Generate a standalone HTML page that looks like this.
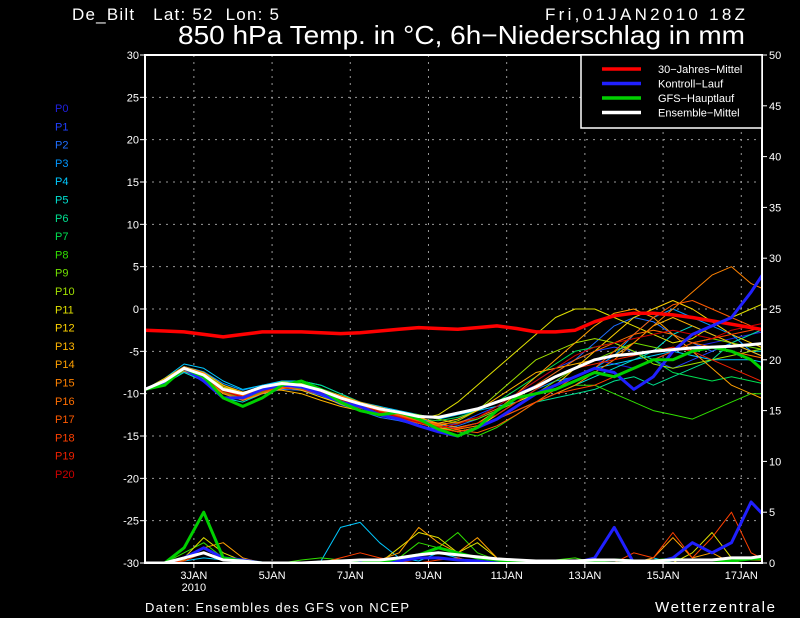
<!DOCTYPE html>
<html><head><meta charset="utf-8"><style>
body{margin:0;background:#000;width:800px;height:618px;overflow:hidden}
svg{display:block}
text{font-family:"Liberation Sans",sans-serif;fill:#fff}
</style></head><body>
<svg id="chart" width="800" height="618" viewBox="0 0 800 618" xmlns="http://www.w3.org/2000/svg">
<rect width="800" height="618" fill="#000"/>
<text x="72" y="20" font-size="17" textLength="207" lengthAdjust="spacing" xml:space="preserve">De_Bilt   Lat: 52  Lon: 5</text>
<text x="545" y="20" font-size="17" textLength="200" lengthAdjust="spacing">Fri,01JAN2010 18Z</text>
<text x="178" y="44" font-size="26" textLength="567" lengthAdjust="spacingAndGlyphs">850 hPa Temp. in °C, 6h−Niederschlag in mm</text>
<text x="145" y="612" font-size="13" textLength="264" lengthAdjust="spacing">Daten: Ensembles des GFS von NCEP</text>
<text x="655" y="612" font-size="15" textLength="120" lengthAdjust="spacing">Wetterzentrale</text>
<g id="grid"></g>
<defs><clipPath id="clip"><rect x="145" y="55" width="617" height="508"/></clipPath></defs>
<g id="series" clip-path="url(#clip)"></g>
<rect x="145" y="55" width="617" height="508" fill="none" stroke="#fff" stroke-width="2"/>
<g id="axes"></g>
<g id="legend">
<rect x="581" y="55" width="181" height="73" fill="#000" stroke="#fff" stroke-width="1.5"/>
</g>
<g id="members-legend"></g>
</svg>
<script>
const tempTicks=[30,25,20,15,10,5,0,-5,-10,-15,-20,-25,-30];
const precipTicks=[50,45,40,35,30,25,20,15,10,5,0];
const dayLabels=["3JAN","5JAN","7JAN","9JAN","11JAN","13JAN","15JAN","17JAN"];
const dayOffsets=[1.25,3.25,5.25,7.25,9.25,11.25,13.25,15.25];
const memberNames=["P0","P1","P2","P3","P4","P5","P6","P7","P8","P9","P10","P11","P12","P13","P14","P15","P16","P17","P18","P19","P20"];
const memberColors=["#2020e0","#2040ff","#1e6eff","#0096ff","#00c8ff","#00e0d0","#00e090","#00e050","#30e000","#70e000","#a0e000","#e0e000","#ffd200","#ffb400","#ffa000","#ff8200","#ff6e00","#ff5a00","#ff4000","#f02000","#d00000"];
const climate=[-2.5,-2.6,-2.7,-3.0,-3.3,-3.0,-2.7,-2.7,-2.7,-2.8,-2.9,-2.8,-2.6,-2.4,-2.2,-2.3,-2.4,-2.2,-2.0,-2.3,-2.7,-2.7,-2.5,-1.5,-0.8,-0.5,-0.5,-0.7,-1.0,-1.4,-1.8,-2.2,-2.6];
const ensMean=[-9.5,-8.5,-7,-7.8,-9.5,-10,-9.2,-8.8,-9,-9.6,-10.5,-11.2,-11.8,-12.2,-12.7,-12.8,-12.3,-11.8,-11,-10.2,-9.2,-8,-7,-6,-5.5,-5.3,-5,-4.8,-4.6,-4.5,-4.4,-4.2,-4];
const gfsRun=[-9.5,-9,-7,-8,-10.5,-11.5,-10.5,-9,-8.5,-9.5,-11,-12,-12.5,-12.2,-13,-14.2,-15,-14,-12,-10.5,-10,-9.5,-8.5,-7.5,-8,-7,-6,-6,-5,-4.5,-5,-6,-8];
const ctrlRun=[-9.5,-8.6,-7,-8.5,-10.5,-10.5,-9.5,-9,-9.2,-10,-11,-11.5,-12.5,-13,-13.8,-14.5,-15,-14,-13,-11.5,-10,-9,-8,-7,-7.5,-9.5,-8,-5,-3,-2,-1,2,5.5];
const m0=[-9.5,-8.3,-7.2,-8,-9.8,-10.5,-9.5,-9,-9.3,-10,-11,-11.5,-12,-12.5,-13,-13.5,-13,-12,-11,-10,-9,-8,-7,-6,-6.5,-7,-6,-5,-4.5,-4,-3.5,-3,-2.5];
const m1=[-9.5,-8.6,-7,-7.5,-9,-10,-9.3,-8.5,-8.8,-9.5,-10.8,-11.7,-12.2,-12.8,-13.5,-14,-13.5,-12.5,-11.5,-10,-8.5,-7,-6,-5,-4.5,-5,-6,-7,-6,-5,-4,-5,-6];
const m2=[-9.5,-8.5,-7.4,-8.2,-10,-10.8,-10,-9.5,-9.6,-10.2,-11.3,-12,-12.8,-13.2,-13.8,-14.2,-13.8,-13,-12,-10.5,-9,-7.5,-6,-4,-2,-1,-1.5,-3,-4,-5,-4,-3,-2];
const m3=[-9.5,-8.4,-6.8,-7.4,-8.8,-9.6,-9,-8.6,-8.8,-9.6,-10.4,-11,-11.8,-12.4,-13,-13.6,-14,-13.5,-12.5,-11,-9.5,-8.5,-8,-7,-5.5,-3,-1,0,-1,-2,-3,-5,-6];
const m4=[-9.5,-8.2,-6.5,-7,-8.5,-9.5,-9,-8.5,-8.5,-9,-10,-11,-11.5,-12,-12.5,-13,-12.5,-12,-11.5,-11,-10,-9,-8,-7,-6.5,-6,-5.5,-5,-5.5,-6,-6,-6,-6.5];
const m5=[-9.5,-8.8,-7.5,-8.5,-10.5,-11,-10,-9,-9,-9.5,-10.5,-11.5,-12.5,-13,-13.5,-14,-14.5,-14,-13,-12,-11,-10,-9,-8,-7,-6,-5,-3,-2,-3,-4,-5,-5];
const m6=[-9.5,-8.5,-7,-7.8,-9.5,-10.5,-9.5,-8.8,-8.5,-9,-10,-11,-12,-13,-13.5,-14,-14.5,-14,-13,-12,-11,-10.5,-10,-9.5,-8.5,-8,-9,-8,-7,-6,-4,-3,-2];
const m7=[-9.5,-8.3,-6.9,-7.6,-9.2,-10.2,-9.6,-9.2,-9.4,-10,-10.8,-11.6,-12.2,-12.6,-13,-13.2,-12.8,-12,-11,-9.5,-8,-6.5,-5,-4.5,-4,-5,-6,-7.5,-8,-8.5,-8,-8.5,-9];
const m8=[-9.5,-8.7,-7.3,-8,-9.8,-10.6,-9.8,-9.2,-9,-9.4,-10.2,-11,-11.8,-12.4,-13,-13.8,-14.5,-15,-14,-12.5,-11,-10,-9,-9,-10,-11,-12,-12.5,-13,-12,-11,-10,-10];
const m9=[-9.5,-8.4,-7,-7.9,-9.6,-10.3,-9.4,-8.8,-9,-9.8,-10.6,-11.4,-12,-12.2,-12.5,-13,-13.5,-13,-12,-11,-10,-8.5,-7,-6,-5,-4,-4.5,-5,-4,-3.5,-4,-4.5,-5];
const m10=[-9.5,-8.6,-7.2,-8,-9.4,-10,-9.2,-8.6,-8.8,-9.6,-10.6,-11.4,-12.4,-13,-13.4,-13.8,-13.2,-12,-10,-8,-6,-5,-4,-3.5,-4,-5,-6.5,-7,-6.5,-6,-5.5,-5,-4.5];
const m11=[-9.5,-8.2,-6.8,-7.5,-9,-10,-9.5,-9,-9.2,-10,-11,-12,-12.5,-13,-13,-12.5,-11,-9,-7,-5,-3,-1,0,0,-1,-2,-3,-4,-3.5,-2,-1,0,1];
const m12=[-9.5,-8.5,-7,-7.7,-9.2,-10,-9.5,-9.2,-9.6,-10.4,-11.2,-12,-12.6,-13,-13.4,-14,-14.5,-14,-12.5,-11,-10,-9,-7,-5,-3,-1,0,1,0,-1.5,-3,-4,-5];
const m13=[-9.5,-8.4,-6.9,-7.5,-9,-9.8,-9.5,-9.6,-10,-10.8,-11.5,-12,-12.4,-12.8,-13.2,-13.5,-13,-12,-10.5,-9,-7.5,-7,-6.5,-6,-5.5,-4,-2,-1,-2,-3,-4,-5,-6];
const m14=[-9.5,-8.7,-7.3,-8.3,-10,-10.8,-10,-9.4,-9.2,-9.6,-10.2,-11,-11.6,-12.2,-12.8,-13.5,-14,-13.5,-12,-10,-8,-6,-4,-2,-0.5,0,-1,-3,-5,-7,-9,-10,-11];
const m15=[-9.5,-8.5,-7.1,-7.9,-9.6,-10.4,-9.6,-9,-9,-9.6,-10.4,-11.2,-12,-12.6,-13.2,-13.8,-14.2,-13.8,-13,-12,-11,-10,-9,-7.5,-6,-4,-2,0,2,4,5,3,2];
const m16=[-9.5,-8.3,-6.8,-7.6,-9.4,-10.2,-9.4,-9,-9.2,-9.8,-10.6,-11.4,-12,-12.6,-13.2,-13.6,-13.4,-12.8,-11.8,-10.5,-9,-7.5,-6,-5,-4,-3,-2.5,-3,-4,-4.5,-5,-5.5,-6];
const m17=[-9.5,-8.6,-7.2,-8.1,-9.9,-10.7,-9.9,-9.3,-9.1,-9.5,-10.3,-11.1,-11.9,-12.5,-13.1,-13.7,-14.3,-14.6,-13.8,-12.5,-11,-9.5,-8,-7,-5,-3,-1,0.5,1,0,-1,-2,-3];
const m18=[-9.5,-8.4,-7,-7.8,-9.5,-10.3,-9.7,-9.3,-9.5,-10.1,-10.9,-11.7,-12.3,-12.9,-13.5,-14.1,-14.5,-14,-13,-12,-11,-10,-9.5,-9,-8,-7,-6,-5,-4,-3.5,-3,-2.5,-2];
const m19=[-9.5,-8.5,-7.1,-7.9,-9.7,-10.5,-9.7,-9.1,-9.1,-9.7,-10.5,-11.3,-12.1,-12.7,-13.3,-13.9,-14.1,-13.5,-12.5,-11,-9.5,-8,-7,-6.5,-6,-5.5,-5,-4.5,-5,-6,-7,-8,-9];
const m20=[-9.5,-8.6,-7.2,-8,-9.7,-10.4,-9.6,-9,-9.1,-9.8,-10.7,-11.5,-12.2,-12.8,-13.4,-14,-13.6,-12.8,-11.5,-10,-8.5,-7,-5.5,-4.5,-4,-3.5,-3,-2.5,-3,-3.5,-2.5,-2,-1.5];
const precipMean=[0,0,0.5,1,0.3,0.2,0,0,0,0.1,0.2,0.3,0.3,0.5,0.8,1,0.8,0.6,0.4,0.3,0.2,0.2,0.2,0.3,0.3,0.2,0.2,0.3,0.3,0.3,0.5,0.5,0.8];
const precipGfs=[0,0,1.5,5,0.5,0.2,0,0,0,0,0,0.3,0,0.5,0.8,1.5,1,0.5,0.3,0,0,0,0,0.2,0.3,0.2,0.2,0.3,0.3,0.3,0.2,0.4,0.5];
const precipCtrl=[0,0,0.5,1.5,0.5,0.3,0,0,0,0,0,0,0,0.2,0.5,0.5,0.3,0.2,0,0,0,0,0,0.5,3.5,0,0,0.5,2,1,2,6,4];
const precipP4=[0,0,0.2,0.5,0.3,0,0,0,0,0.2,3.5,4,2,0.5,0.2,1,0.5,0,0,0,0,0,0,0,0,0,0.5,0,0,0,0,0,0];
const precipP14=[0,0,0.3,1.5,2,0.5,0,0,0,0,0,0,0.3,1,3.5,2,1,2.5,0.5,0,0,0,0,0,0,0,0.5,2.5,0.5,1,0,0.5,1];
const precipP11=[0,0,0.5,2.5,1,0.2,0,0,0,0,0,0,0,1.5,3,2.5,1,2,0.5,0.3,0.2,0,0,0,0,0,0,0,1,3,0.5,0.3,0.3];
const precipP18=[0,0,0.2,1,0.5,0,0,0,0,0,0.5,1,0.5,0.2,0,0.3,0.5,0,0,0,0,0,0,0,0,1,0.5,3,0.5,2.5,5,1,0];
const precipP8=[0,0,1,2,0.5,0,0,0,0.3,0.5,0.3,0,0,0.5,2,1.5,3,1,0.3,0,0,0.3,0.5,0,0,0,0.3,0.5,0.3,0.3,0.5,0.3,0.5];

const members=[m0,m1,m2,m3,m4,m5,m6,m7,m8,m9,m10,m11,m12,m13,m14,m15,m16,m17,m18,m19,m20];
const NS="http://www.w3.org/2000/svg";
const X0=145,X1=762,Y0=55,Y1=563,DAYPX=39.1;
function xDay(d){return X0+d*DAYPX;}
function xIdx(i){return xDay(i*0.5);}
function yT(v){return Y1-(v+30)/60*(Y1-Y0);}
function yP(v){return Y1-v/50*(Y1-Y0);}
function el(tag,attrs,parent){const e=document.createElementNS(NS,tag);for(const k in attrs)e.setAttribute(k,attrs[k]);parent.appendChild(e);return e;}
const grid=document.getElementById('grid'),axes=document.getElementById('axes'),ser=document.getElementById('series');
tempTicks.forEach((t,i)=>{
  const y=yT(t);
  if(t>-30&&t<30){const g=el('line',{x1:X0,x2:X1,y1:y,y2:y,stroke:'#999','stroke-dasharray':'2,5','stroke-width':1},grid);
  
  }
  el('line',{x1:X0-5,x2:X0,y1:y,y2:y,stroke:'#fff'},axes);
  const tx=el('text',{x:X0-6,y:y+4,'font-size':11,'text-anchor':'end'},axes);tx.textContent=t;
  
  
});
precipTicks.forEach(p=>{
  const y=yP(p);
  el('line',{x1:X1,x2:X1+5,y1:y,y2:y,stroke:'#fff'},axes);
  const tx=el('text',{x:X1+7,y:y+4,'font-size':11},axes);tx.textContent=p;
  
  
});
dayLabels.forEach((l,i)=>{
  const x=xDay(dayOffsets[i]);
  const g=el('line',{x1:x,x2:x,y1:Y0,y2:Y1,stroke:'#999','stroke-dasharray':'2,5'},grid);
  
  
  el('line',{x1:x,x2:x,y1:Y1,y2:Y1+5,stroke:'#fff'},axes);
  const tx=el('text',{x:x,y:Y1+16,'font-size':11,'text-anchor':'middle'},axes);tx.textContent=l;
  
  
});
const yr=el('text',{x:xDay(dayOffsets[0]),y:Y1+28,'font-size':11,'text-anchor':'middle'},axes);yr.textContent='2010';


function path(arr,yf,color,w,name){
  const d=arr.map((v,i)=>(i?'L':'M')+xIdx(i).toFixed(1)+','+yf(v).toFixed(1)).join('');
  const p=el('path',{d:d,fill:'none',stroke:color,'stroke-width':w,'stroke-linejoin':'round'},ser);
  
  
}
const precipMembers=[[precipP4,4],[precipP8,8],[precipP11,11],[precipP14,14],[precipP18,18]];
precipMembers.forEach(([a,k])=>path(a,yP,memberColors[k],1,'precip-'+memberNames[k].toLowerCase()));
members.forEach((m,k)=>path(m,yT,memberColors[k],1,'temp-'+memberNames[k].toLowerCase()));
path(climate,yT,'#ff0000',3.5,'climate-mean-line');
path(precipCtrl,yP,'#2020ff',3,'precip-control');
path(precipGfs,yP,'#00d000',3,'precip-gfs');
path(precipMean,yP,'#ffffff',3,'precip-mean');
path(ctrlRun,yT,'#2020ff',3,'control-run-line');
path(gfsRun,yT,'#00d000',3,'gfs-run-line');
path(ensMean,yT,'#ffffff',3,'ensemble-mean-line');
const leg=document.getElementById('legend');
[["30−Jahres−Mittel","#ff0000"],["Kontroll−Lauf","#2020ff"],["GFS−Hauptlauf","#00d000"],["Ensemble−Mittel","#ffffff"]].forEach((e,i)=>{
  const y=69+i*14.5;
  const ln=el('line',{x1:602,x2:641,y1:y,y2:y,stroke:e[1],'stroke-width':3.5},leg);
  
  
  const tx=el('text',{x:658,y:y+4,'font-size':11},leg);tx.textContent=e[0];
  
  
});
const ml=document.getElementById('members-legend');
memberNames.forEach((n,k)=>{
  const tx=el('text',{x:55,y:112+k*18.3,'font-size':11,fill:memberColors[k]},ml);tx.textContent=n;
  tx.style.fill=memberColors[k];
  
  
});
</script>
</body></html>
